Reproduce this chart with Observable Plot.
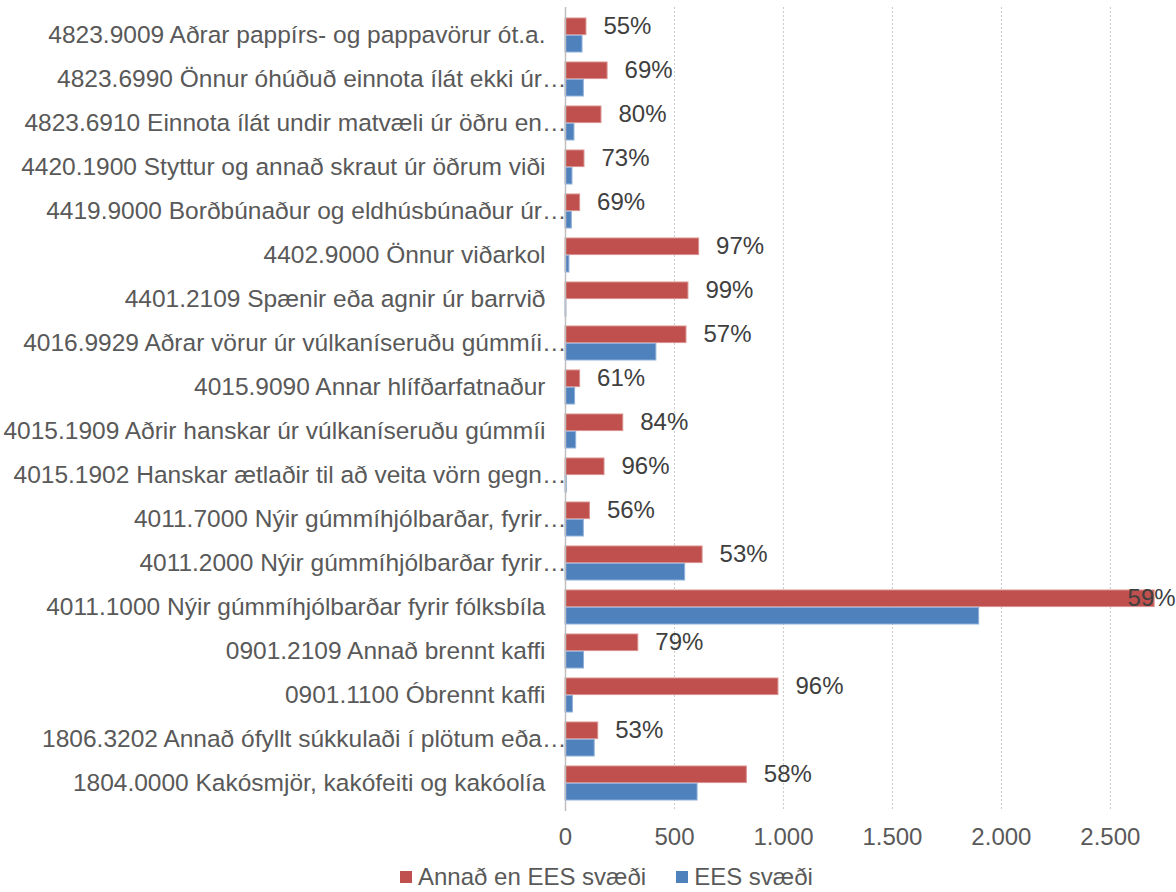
<!DOCTYPE html>
<html><head><meta charset="utf-8">
<script src="https://cdn.jsdelivr.net/npm/d3@7"></script>
<script src="https://cdn.jsdelivr.net/npm/@observablehq/plot@0.6"></script>
<style>
body{margin:0;background:#fff;font-family:"Liberation Sans",Arial,sans-serif;}
#chart{width:1176px;height:892px;overflow:hidden;position:relative}
.legend{position:absolute;left:400px;top:864px;height:26px;line-height:26px;font-size:24px;color:#595959;white-space:nowrap}
.legend .item{display:inline-block;margin-right:30px}
.legend .sw{display:inline-block;width:12px;height:12px;margin-right:6px;vertical-align:2px}
</style></head>
<body><div id="chart"></div>
<script>
const categories = [
  "4823.9009 Aðrar pappírs- og pappavörur ót.a.",
  "4823.6990 Önnur óhúðuð einnota ílát ekki úr…",
  "4823.6910 Einnota ílát undir matvæli úr öðru en…",
  "4420.1900 Styttur og annað skraut úr öðrum viði",
  "4419.9000 Borðbúnaður og eldhúsbúnaður úr…",
  "4402.9000 Önnur viðarkol",
  "4401.2109 Spænir eða agnir úr barrvið",
  "4016.9929 Aðrar vörur úr vúlkaníseruðu gúmmíi…",
  "4015.9090 Annar hlífðarfatnaður",
  "4015.1909 Aðrir hanskar úr vúlkaníseruðu gúmmíi",
  "4015.1902 Hanskar ætlaðir til að veita vörn gegn…",
  "4011.7000 Nýir gúmmíhjólbarðar, fyrir…",
  "4011.2000 Nýir gúmmíhjólbarðar fyrir…",
  "4011.1000 Nýir gúmmíhjólbarðar fyrir fólksbíla",
  "0901.2109 Annað brennt kaffi",
  "0901.1100 Óbrennt kaffi",
  "1806.3202 Annað ófyllt súkkulaði í plötum eða…",
  "1804.0000 Kakósmjör, kakófeiti og kakóolía"
];
const nonEES = [96, 193, 165, 87, 67, 613, 564, 555, 67, 265, 179, 112, 629, 2703, 334, 977, 150, 832];
const ees    = [78, 84, 41, 32, 29, 18, 4, 417, 44, 49, 6, 84, 549, 1898, 85, 34, 134, 606];
const pctLabels = ["55%","69%","80%","73%","69%","97%","99%","57%","61%","84%","96%","56%","53%","59%","79%","96%","53%","58%"];
const xTicks = [0, 500, 1000, 1500, 2000, 2500];
const seriesNames = ["Annað en EES svæði", "EES svæði"];
const colors = ["#C0504D", "#4F81BD"];

const rows = categories.map((c, i) => ({cat: c, red: nonEES[i], blue: ees[i], pct: pctLabels[i], trunc: c.endsWith("…")}));
const fmt = d3.formatLocale({decimal: ",", thousands: ".", grouping: [3], currency: ["", ""]}).format(",");

const W = 1176, H = 860, mt = 7, mb = 49, ml = 565, mr = 16;
const pInner = 0.22, pOuter = 0.11;
const step = (H - mt - mb) / (categories.length - pInner + 2 * pOuter);
const bw = step * (1 - pInner);
const half = bw / 2;
const xMax = 2730;

const plot = Plot.plot({
  width: W, height: H,
  marginTop: mt, marginBottom: mb, marginLeft: ml, marginRight: mr,
  style: {fontFamily: '"Liberation Sans", Arial, sans-serif', fontSize: "24px", color: "#595959", background: "#fff"},
  x: {domain: [0, xMax], axis: null},
  y: {domain: categories, paddingInner: pInner, paddingOuter: pOuter, axis: null},
  marks: [
    Plot.gridX(xTicks.filter(d => d > 0), {stroke: "#c8c8c8", strokeOpacity: 1, strokeDasharray: "2,2"}),
    Plot.barX(rows, {y: "cat", x: "red", fill: colors[0], stroke: "#d9908e", strokeWidth: 1, insetBottom: half}),
    Plot.barX(rows, {y: "cat", x: "blue", fill: colors[1], stroke: "#8fb0d8", strokeWidth: 1, insetTop: half}),
    Plot.ruleX([0], {stroke: "#bfbfbf", strokeWidth: 1.5}),
    Plot.axisX({ticks: xTicks, tickFormat: fmt, tickSize: 0, tickPadding: 16, fontSize: 24, fill: "#595959", label: null}),
    Plot.text(rows.filter(d => !d.trunc), {x: 0, y: "cat", text: "cat", textAnchor: "end", dx: -20, fontSize: 24.5, fill: "#595959"}),
    Plot.text(rows.filter(d => d.trunc), {x: 0, y: "cat", text: "cat", textAnchor: "end", dx: 1, fontSize: 24.5, fill: "#595959"}),
    Plot.text(rows.filter(d => d.red < 2500), {x: "red", y: "cat", text: "pct", textAnchor: "start", dx: 17, dy: -half / 2, fontSize: 24, fill: "#404040"}),
    Plot.text(rows.filter(d => d.red >= 2500), {x: "red", y: "cat", text: "pct", textAnchor: "end", dx: 21, dy: -half / 2, fontSize: 24, fill: "#404040"})
  ]
});

const chart = document.getElementById("chart");
chart.appendChild(plot);
const legend = document.createElement("div");
legend.className = "legend";
seriesNames.forEach((n, i) => {
  const it = document.createElement("span");
  it.className = "item";
  const sw = document.createElement("span");
  sw.className = "sw";
  sw.style.background = colors[i];
  it.appendChild(sw);
  it.appendChild(document.createTextNode(n));
  legend.appendChild(it);
});
chart.appendChild(legend);
</script>
</body></html>
